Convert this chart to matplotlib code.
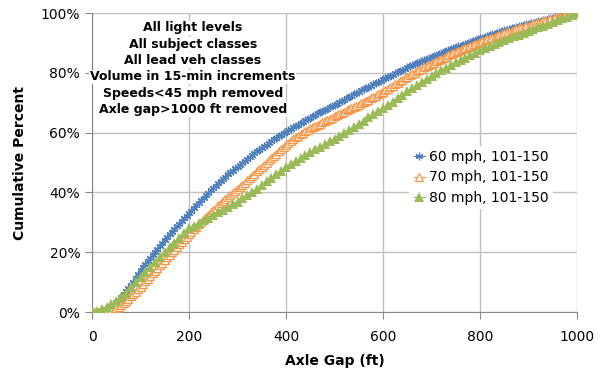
import matplotlib
matplotlib.use("Agg")
import matplotlib.pyplot as plt
from matplotlib.ticker import PercentFormatter
import numpy as np

# axle gap bins (ft)
gap_5ft = np.arange(0, 1001, 5)
gap_10ft = np.arange(0, 1001, 10)

# cumulative percent, 60 mph, 101-150 (every 5 ft)
cum_60 = [
    0, 0, 0, 0.1, 0.2, 0.5, 0.8, 1.3, 1.8, 2.5, 3.2, 4.1, 5.0, 6.0, 7.0, 8.0, 9.0, 10.2, 11.5, 12.8,
    14.0, 15.0, 16.0, 17.0, 18.0, 19.0, 20.0, 21.0, 22.0, 23.0, 24.0, 25.0, 26.0, 26.9, 27.8, 28.7, 29.6, 30.5, 31.3, 32.2,
    33.0, 33.9, 34.8, 35.7, 36.5, 37.4, 38.2, 39.1, 39.9, 40.7, 41.5, 42.3, 43.0, 43.8, 44.5, 45.3, 46.0, 46.7, 47.3, 48.0,
    48.6, 49.3, 49.9, 50.6, 51.2, 51.9, 52.5, 53.1, 53.7, 54.3, 54.9, 55.5, 56.0, 56.6, 57.1, 57.7, 58.2, 58.8, 59.3, 59.8,
    60.3, 60.8, 61.3, 61.8, 62.2, 62.7, 63.2, 63.7, 64.1, 64.6, 65.0, 65.5, 65.9, 66.4, 66.8, 67.2, 67.6, 68.0, 68.4, 68.8,
    69.2, 69.7, 70.1, 70.6, 71.0, 71.5, 71.9, 72.4, 72.8, 73.2, 73.6, 74.1, 74.5, 74.9, 75.3, 75.7, 76.1, 76.6, 77.0, 77.4,
    77.8, 78.2, 78.6, 79.0, 79.4, 79.8, 80.2, 80.6, 81.0, 81.4, 81.8, 82.2, 82.5, 82.9, 83.2, 83.6, 83.9, 84.3, 84.6, 85.0,
    85.3, 85.7, 86.0, 86.3, 86.6, 87.0, 87.3, 87.6, 87.9, 88.2, 88.5, 88.8, 89.1, 89.4, 89.7, 90.0, 90.3, 90.6, 90.9, 91.2,
    91.5, 91.8, 92.0, 92.3, 92.6, 92.9, 93.1, 93.4, 93.7, 94.0, 94.2, 94.4, 94.6, 94.9, 95.1, 95.3, 95.5, 95.8, 96.0, 96.2,
    96.4, 96.6, 96.8, 97.0, 97.2, 97.4, 97.6, 97.8, 98.0, 98.2, 98.4, 98.5, 98.7, 98.9, 99.0, 99.2, 99.4, 99.5, 99.7, 99.8,
    100.0,
]

# cumulative percent, 70 mph, 101-150 (every 5 ft)
cum_70 = [
    0, 0, 0, 0, 0, 0, 0, 0.1, 0.3, 0.7, 1.2, 1.7, 2.3, 3.0, 3.7, 4.4, 5.2, 6.0, 6.8, 7.6,
    8.5, 9.4, 10.3, 11.1, 12.0, 12.9, 13.8, 14.7, 15.6, 16.5, 17.4, 18.3, 19.2, 20.0, 20.9, 21.7, 22.6, 23.4, 24.3, 25.1,
    26.0, 26.8, 27.7, 28.5, 29.4, 30.2, 31.0, 31.8, 32.6, 33.4, 34.2, 34.9, 35.7, 36.4, 37.1, 37.8, 38.5, 39.1, 39.7, 40.4,
    41.0, 41.8, 42.5, 43.3, 44.0, 44.8, 45.5, 46.3, 47.0, 47.8, 48.5, 49.3, 50.0, 50.8, 51.5, 52.3, 53.0, 53.7, 54.4, 55.1,
    55.8, 56.5, 57.2, 57.8, 58.4, 59.0, 59.5, 60.0, 60.5, 61.0, 61.4, 61.8, 62.2, 62.6, 63.0, 63.4, 63.8, 64.2, 64.6, 65.0,
    65.4, 65.8, 66.2, 66.6, 67.0, 67.4, 67.8, 68.2, 68.6, 69.0, 69.4, 69.8, 70.2, 70.6, 71.0, 71.5, 71.9, 72.4, 72.8, 73.3,
    73.7, 74.2, 74.7, 75.2, 75.7, 76.2, 76.7, 77.2, 77.7, 78.2, 78.7, 79.1, 79.6, 80.0, 80.5, 80.9, 81.4, 81.8, 82.2, 82.6,
    83.0, 83.4, 83.8, 84.2, 84.6, 85.0, 85.4, 85.8, 86.2, 86.6, 86.9, 87.3, 87.6, 88.0, 88.3, 88.7, 89.0, 89.4, 89.7, 90.0,
    90.3, 90.6, 90.9, 91.2, 91.5, 91.8, 92.1, 92.4, 92.7, 93.0, 93.3, 93.5, 93.8, 94.1, 94.4, 94.6, 94.9, 95.1, 95.4, 95.6,
    95.8, 96.0, 96.3, 96.5, 96.7, 97.0, 97.2, 97.4, 97.7, 97.9, 98.1, 98.3, 98.5, 98.7, 98.9, 99.2, 99.4, 99.6, 99.8, 99.9,
    100.0,
]

# cumulative percent, 80 mph, 101-150 (every 10 ft)
cum_80 = [
    0, 0.5, 1.1, 1.8, 2.6, 3.6, 5.0, 6.5, 8.2, 10.0,
    11.8, 13.5, 15.1, 16.7, 18.3, 20.0, 21.6, 23.2, 24.8, 26.4,
    28.0, 28.9, 29.8, 30.7, 31.6, 32.5, 33.4, 34.2, 35.1, 36.0,
    36.9, 38.0, 39.1, 40.2, 41.3, 42.5, 43.7, 44.9, 46.1, 47.3,
    48.5, 49.5, 50.5, 51.5, 52.5, 53.5, 54.4, 55.3, 56.2, 57.1,
    58.0, 59.0, 60.0, 61.0, 62.0, 63.0, 64.0, 65.1, 66.1, 67.2,
    68.2, 69.3, 70.4, 71.5, 72.7, 73.8, 74.8, 75.9, 76.9, 78.0,
    79.0, 79.9, 80.8, 81.7, 82.6, 83.5, 84.3, 85.1, 85.9, 86.7,
    87.5, 88.2, 88.9, 89.6, 90.3, 91.0, 91.6, 92.2, 92.8, 93.4,
    94.0, 94.6, 95.2, 95.8, 96.4, 97.0, 97.6, 98.2, 98.8, 99.4,
    100.0,
]

labels = ["60 mph, 101-150", "70 mph, 101-150", "80 mph, 101-150"]
notes = ["All light levels", "All subject classes", "All lead veh classes",
         "Volume in 15-min increments", "Speeds<45 mph removed", "Axle gap>1000 ft removed"]

fig = plt.figure(figsize=(6.07, 3.77), dpi=100)
ax = fig.add_axes([0.1516, 0.1724, 0.7990, 0.7931])

ax.plot(gap_5ft, cum_60, color="#4F81BD", lw=0.8, marker=(6, 2, 0), ms=5.5, mew=0.9,
        label=labels[0], zorder=3)
ax.plot(gap_5ft, cum_70, color="#F79646", lw=0.8, marker="^", ms=5.5, mfc="white", mew=0.9,
        label=labels[1], zorder=4)
ax.plot(gap_10ft, cum_80, color="#9BBB59", lw=0.8, marker="^", ms=6.5, mew=0,
        label=labels[2], zorder=5)

ax.set_xlim(0, 1000)
ax.set_ylim(0, 100)
ax.set_xticks(range(0, 1001, 200))
ax.set_yticks(range(0, 101, 20))
ax.yaxis.set_major_formatter(PercentFormatter(decimals=0))
ax.grid(True, color="#BFBFBF", lw=1)
ax.set_axisbelow(True)
for s in ["top", "right"]:
    ax.spines[s].set_visible(False)
for s in ["left", "bottom"]:
    ax.spines[s].set_color("#868686")
ax.tick_params(colors="#868686", labelcolor="black", length=5, labelsize=10)
ax.tick_params(axis="x", pad=8)

ax.set_xlabel("Axle Gap (ft)", fontsize=10, fontweight="bold", labelpad=7)
ax.set_ylabel("Cumulative Percent", fontsize=10, fontweight="bold", labelpad=10)

# note block: each line gets its own white background, like the original text box
for i, line in enumerate(notes):
    ax.text(0.208, 0.950 - i * 0.0545, line, transform=ax.transAxes, ha="center", va="center",
            fontsize=9, fontweight="bold", zorder=6,
            bbox=dict(facecolor="white", edgecolor="none", pad=0.5))

leg = ax.legend(loc="center left", bbox_to_anchor=(0.64, 0.45), frameon=True, fontsize=10,
                handlelength=0.8, handletextpad=0.3, labelspacing=0.45, borderpad=0.3)
leg.get_frame().set_edgecolor("none")
leg.get_frame().set_facecolor("white")
leg.get_frame().set_alpha(1)
leg.set_zorder(7)

plt.savefig("out.png", dpi=100)
plt.close()
